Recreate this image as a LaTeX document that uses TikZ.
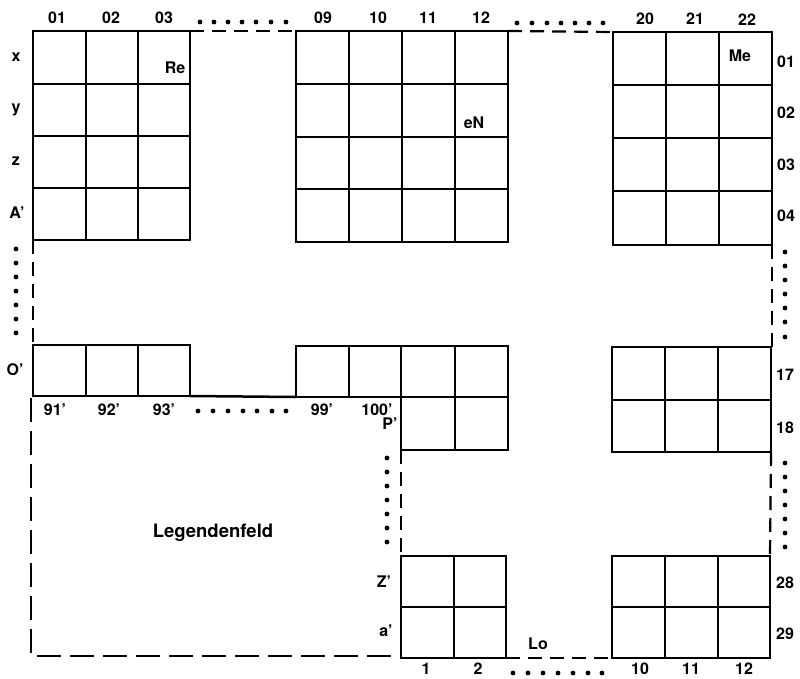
\documentclass[tikz,border=0pt]{standalone}
\usepackage{fontspec}
\setmainfont{TeX Gyre Heros}
\begin{document}
\begin{tikzpicture}[x=1pt,y=-1pt,
  grid/.style={line width=1.6pt},
  frame/.style={line width=2.5pt, line join=miter},
  dashline/.style={line width=2.2pt, dash pattern=on 14pt off 8pt},
  dotmark/.style={fill=black},
  lab/.style={font=\fontsize{16}{18}\selectfont\bfseries, inner sep=0pt},
  biglab/.style={font=\fontsize{18.5}{20}\selectfont\bfseries, inner sep=0pt},
]
\useasboundingbox (0,0) rectangle (800,679);

% ---- top-left block (01-03, x..A')
\draw[frame] (33,31) rectangle (190,240);
\foreach \x in {86,138} \draw[grid] (\x,31)--(\x,240);
\foreach \y in {84,136,188} \draw[grid] (33,\y)--(190,\y);

% ---- top-middle block (09-12)
\draw[frame] (296,31) rectangle (508,242);
\foreach \x in {349,402,455} \draw[grid] (\x,31)--(\x,242);
\foreach \y in {84,137,189} \draw[grid] (296,\y)--(508,\y);

% ---- top-right block (20-22)
\draw[frame] (613,32) rectangle (772,245);
\foreach \x in {666,719} \draw[grid] (\x,32)--(\x,245);
\foreach \y in {85,138,191} \draw[grid] (613,\y)--(772,\y);

% ---- middle row left (O')
\draw[frame] (33,345) rectangle (190,396);
\foreach \x in {86,138} \draw[grid] (\x,345)--(\x,396);
\draw[frame] (190,396)--(296,397);

% ---- middle row middle (99', 100', P')
\draw[frame] (296,346)--(508,346)--(508,450)--(401,450)--(401,397)--(296,397)--cycle;
\foreach \x in {349,401} \draw[grid] (\x,346)--(\x,397);
\draw[grid] (455,346)--(455,450);
\draw[grid] (401,397)--(508,397);

% ---- middle row right (17, 18)
\draw[frame] (612,347) rectangle (771,452);
\foreach \x in {665,718} \draw[grid] (\x,347)--(\x,452);
\draw[grid] (612,400)--(771,400);

% ---- bottom block (Z', a')
\draw[frame] (401,556) rectangle (506,658);
\draw[grid] (454,556)--(454,658);
\draw[grid] (401,607)--(506,607);

% ---- bottom right block (28, 29)
\draw[frame] (612,556) rectangle (770,658);
\foreach \x in {665,718} \draw[grid] (\x,556)--(\x,658);
\draw[grid] (612,607)--(770,607);

% ---- dashed connections
\draw[dashline] (190,31)--(296,31);
\draw[dashline] (508,31)--(613,32);
\draw[dashline] (33,240)--(33,345);
\draw[dashline] (772,245)--(772,347);
\draw[dashline] (771,452)--(770,556);
\draw[dashline] (401,450)--(401,556);
\draw[dashline] (506,658)--(612,658);
\draw[line width=2.2pt, dash pattern=on 24pt off 9pt] (31,398)--(31,656)--(396,656);

% ---- dotted rows
\foreach \x in {200,214,228,242,256,271,286} \fill[dotmark] (\x,22) circle (2.4);
\foreach \x in {517,532,547,561,575,589,603} \fill[dotmark] (\x,23) circle (2.4);
\foreach \y in {249,263,277,291,305,319,333} \fill[dotmark] (16,\y) circle (2.4);
\foreach \y in {252,266,280,294,308,322,337} \fill[dotmark] (785,\y) circle (2.4);
\foreach \y in {463,477,491,505,519,533,547} \fill[dotmark] (785,\y) circle (2.4);
\foreach \y in {458,472,486,500,514,528,542} \fill[dotmark] (387,\y) circle (2.4);
\foreach \x in {513,528,543,558,573,588,602} \fill[dotmark] (\x,673) circle (2.4);
\foreach \x in {198,213,228,243,257,272,286} \fill[dotmark] (\x,411) circle (2.4);

% ---- column labels top
\node[lab] (c01) at (57,18) {01};
\node[lab] (c02) at (111,18) {02};
\node[lab] (c03) at (164,18) {03};
\node[lab] (c09) at (323,18) {09};
\node[lab] (c10) at (378,18) {10};
\node[lab] (c11) at (428,18) {11};
\node[lab] (c12) at (481,18) {12};
\node[lab] (c20) at (645,19) {20};
\node[lab] (c21) at (695,19) {21};
\node[lab] (c22) at (747,20) {22};

% ---- row labels left
\node[lab] (rx) at (16,57) {x};
\node[lab] (ry) at (16,110) {y};
\node[lab] (rz) at (16,161) {z};
\node[lab] (rA) at (17,213) {A’};
\node[lab] (rO) at (15,370) {O’};

% ---- row labels right
\node[lab] (r01) at (786,62) {01};
\node[lab] (r02) at (786,113) {02};
\node[lab] (r03) at (786,165) {03};
\node[lab] (r04) at (786,216) {04};
\node[lab] (r17) at (785,375) {17};
\node[lab] (r18) at (785,428) {18};
\node[lab] (r28) at (785,583) {28};
\node[lab] (r29) at (785,634) {29};

% ---- labels below O' row
\node[lab] (b91) at (55,410) {91’};
\node[lab] (b92) at (109,410) {92’};
\node[lab] (b93) at (164,410) {93’};
\node[lab] (b99) at (322,410) {99’};
\node[lab] (b100) at (377,410) {100’};
\node[lab] (rP) at (390,424) {P’};
\node[lab] (rZ) at (384,582) {Z’};
\node[lab] (ra) at (386,631) {a’};

% ---- bottom labels
\node[lab] (b1) at (426,669) {1};
\node[lab] (b2) at (478,669) {2};
\node[lab] (b10) at (640,669) {10};
\node[lab] (b11) at (691,669) {11};
\node[lab] (b12) at (744,669) {12};

% ---- inner labels
\node[lab] (Re) at (175,68) {Re};
\node[lab] (eN) at (474,123) {eN};
\node[lab] (Me) at (740,56) {Me};
\node[lab] (Lo) at (538,644) {Lo};
\node[biglab] (leg) at (213,533) {Legendenfeld};
\end{tikzpicture}
\end{document}
